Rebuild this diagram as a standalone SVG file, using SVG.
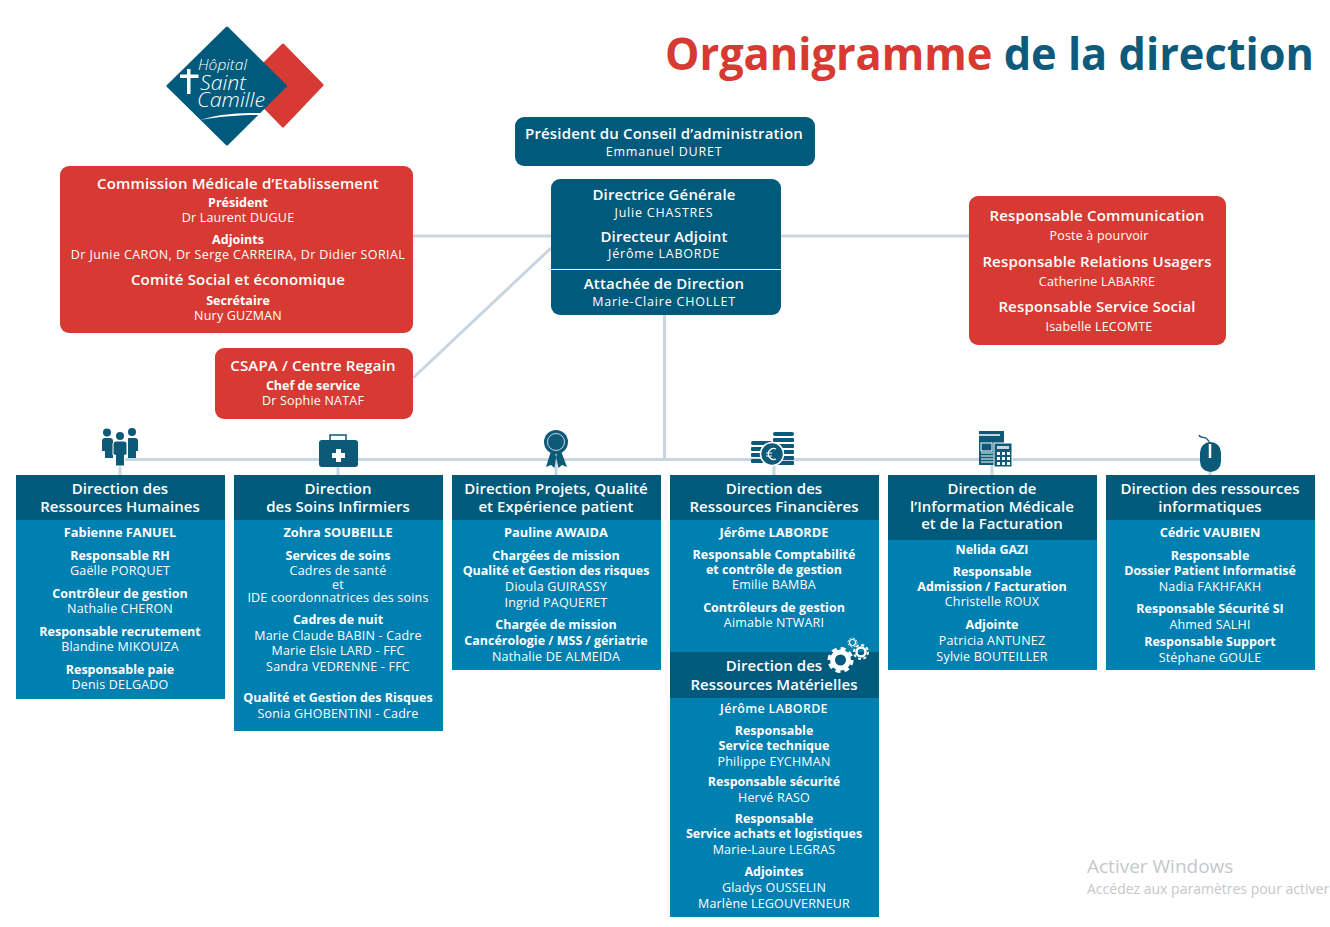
<svg xmlns="http://www.w3.org/2000/svg" width="1330" height="927" viewBox="0 0 1330 927">
<style>
text{font-family:"Open Sans","Noto Sans","Liberation Sans",sans-serif;fill:#fff;text-anchor:middle}
.h{font-size:15px;font-weight:600;letter-spacing:.05px}
.t{font-size:15px;font-weight:600;letter-spacing:.16px}
.p{font-size:12.800px;font-weight:700}
.b{font-size:12.500px;font-weight:700}
.n{font-size:12.500px;letter-spacing:.2px}
.m{font-size:12.500px;letter-spacing:.8px}
.lg{font-family:"Open Sans","Liberation Sans",sans-serif;font-style:italic;font-weight:300;text-anchor:start}
.dk{fill:#005a7c}
.md{fill:#007fb1}
.rd{fill:#d63a32}
.ln{stroke:#c9d5e0;stroke-width:3;fill:none}
.ic{fill:#0d5a78}
</style>
<rect width="1330" height="927" fill="#fff"/>
<g id="title"><text x="989.500" y="70" style="font-size:44px;font-weight:700" textLength="649" lengthAdjust="spacingAndGlyphs"><tspan style="fill:#d63a32">Organigramme</tspan><tspan style="fill:#0d5a7c"> de la direction</tspan></text></g>
<g id="logo">
<path d="M283 45 L322 85 L283 126 L243 85Z" class="rd" stroke="#d63a32" stroke-width="3" stroke-linejoin="round"/>
<path d="M227 28 L285.500 86 L227 144 L168 86Z" class="dk" stroke="#005a7c" stroke-width="3" stroke-linejoin="round"/>
<path d="M200 120 C222 113 245 113 262 113 L261 115 C245 115 222 116 200 120Z" fill="#fff"/>
<path d="M187 69h3.500v5.500h8v3.500h-8v16h-3.500v-16h-7v-3.500h7z" fill="#fff"/>
<text x="198" y="70" class="lg" style="font-size:14px" textLength="49" lengthAdjust="spacingAndGlyphs">Hôpital</text>
<text x="200" y="90" class="lg" style="font-size:20px" textLength="46" lengthAdjust="spacingAndGlyphs">Saint</text>
<text x="197" y="107" class="lg" style="font-size:20px" textLength="68" lengthAdjust="spacingAndGlyphs">Camille</text>
</g>
<g id="connectors">
<path class="ln" d="M413 236H969M551 248L413 378M664.500 315V460M120 459.500H1210M120 459V475M338 459V475M556 459V475M774 459V475M992 459V475M1210 459V475"/>
</g>
<g id="icons">
<g id="icon-rh" class="ic">
<circle cx="107" cy="432.500" r="4"/><circle cx="120" cy="436" r="4"/><circle cx="132" cy="432" r="4"/>
<path d="M105 438h5a3 3 0 0 1 3 3v17h-8v-7h-3v-10a3 3 0 0 1 3-3z"/><path d="M129 438h6a3 3 0 0 1 3 3v10h-2v7h-8v-20z"/>
<path d="M116 441h8a3 3 0 0 1 3 3v11h-2.500v11h-9v-11h-2.500v-11a3 3 0 0 1 3-3z" stroke="#fff" stroke-width="1"/>
</g>
<g id="icon-soins">
<rect x="319" y="440" width="39" height="27" rx="3" class="ic"/>
<path d="M330 440v-5h16v5" fill="none" stroke="#0d5a78" stroke-width="1.500"/>
<path d="M336 449h5v4h4v5h-4v4h-5v-4h-4v-5h4z" fill="#fff"/>
</g>
<g id="icon-qualite">
<path d="M551 451L546 467L551 465L554.500 468L557 452zM561 451L567 467L562 465L558.500 468L555 452z" class="ic"/>
<circle cx="556" cy="442" r="12" class="ic"/><circle cx="556" cy="442" r="8.500" fill="none" stroke="#c9d5e0"/>
</g>
<g id="icon-finances">
<g class="ic">
<rect x="773" y="432" width="21" height="4" rx="2"/><rect x="773" y="438" width="21" height="4" rx="1"/><rect x="773" y="444" width="21" height="4" rx="1"/><rect x="773" y="450" width="21" height="4" rx="1"/><rect x="773" y="456" width="21" height="4" rx="1"/><rect x="773" y="461" width="21" height="4" rx="1"/>
<rect x="751" y="441" width="21" height="4" rx="2"/><rect x="751" y="447" width="21" height="4" rx="1"/><rect x="751" y="453" width="21" height="4" rx="1"/><rect x="751" y="459" width="21" height="4" rx="1"/>
<circle cx="772" cy="454" r="11.500" stroke="#fff" stroke-width="1.500"/>
</g>
<path d="M776 449a5.500 5.500 0 1 0 0 10M766 453h6M766 456h6" fill="none" stroke="#fff" stroke-width="1.200"/>
</g>
<g id="icon-facturation">
<rect x="979" y="431" width="25" height="34" class="ic"/>
<path d="M978 435h22" stroke="#fff" stroke-width="1.500"/>
<rect x="981" y="443" width="11" height="8" fill="none" stroke="#fff"/>
<path d="M981 453h12M981 456h12M981 459h12M981 462h12" stroke="#fff"/>
<rect x="994" y="443" width="18" height="24" class="ic" stroke="#fff"/>
<rect x="997" y="446" width="12" height="3" fill="#c9d5e0"/>
<path d="M997 452h3v3h-3zM1002 452h3v3h-3zM1007 452h3v3h-3zM997 457h3v3h-3zM1002 457h3v3h-3zM1007 457h3v3h-3zM997 462h3v3h-3zM1002 462h3v3h-3zM1007 462h3v3h-3z" fill="#fff"/>
</g>
<g id="icon-si">
<rect x="1200" y="442" width="21" height="30" rx="10.500" class="ic"/>
<path d="M1199 435c1 4 6 1 8 4 2 2 3 3 3 5" fill="none" stroke="#0d5a78" stroke-width="1.200"/>
<path d="M1210 444v14" stroke="#fff" stroke-width="2.500"/>
</g>
</g>
<g id="president"><rect x="515" y="117" width="300" height="49" rx="9" class="dk"/>
<text x="664" y="139" class="t">Président du Conseil d’administration</text><text x="664" y="156" class="m">Emmanuel DURET</text></g>
<g id="direction-generale"><rect x="551" y="179" width="230" height="136" rx="9" class="dk"/>
<path d="M551 269.500H781" stroke="#fff" stroke-width="1"/>
<text x="664" y="200" class="t">Directrice Générale</text><text x="664" y="217" class="m">Julie CHASTRES</text>
<text x="664" y="242" class="t">Directeur Adjoint</text><text x="664" y="258" class="m">Jérôme LABORDE</text>
<text x="664" y="289" class="t">Attachée de Direction</text><text x="664" y="306" class="m">Marie-Claire CHOLLET</text></g>
<g id="cme"><rect x="60" y="166" width="353" height="167" rx="9" class="rd"/>
<text x="238" y="189" class="t">Commission Médicale d’Etablissement</text>
<text x="238" y="207" class="b">Président</text><text x="238" y="222" class="n">Dr Laurent DUGUE</text>
<text x="238" y="244" class="b">Adjoints</text><text x="238" y="259" class="n" style="letter-spacing:.4px">Dr Junie CARON, Dr Serge CARREIRA, Dr Didier SORIAL</text>
<text x="238" y="285" class="t">Comité Social et économique</text>
<text x="238" y="305" class="b">Secrétaire</text><text x="238" y="320" class="n">Nury GUZMAN</text></g>
<g id="csapa"><rect x="215" y="348" width="198" height="71" rx="9" class="rd"/>
<text x="313" y="371" class="t">CSAPA / Centre Regain</text><text x="313" y="390" class="b">Chef de service</text><text x="313" y="405" class="n">Dr Sophie NATAF</text></g>
<g id="communication"><rect x="969" y="196" width="257" height="149" rx="9" class="rd"/>
<text x="1097" y="221" class="t">Responsable Communication</text><text x="1099" y="240" class="n">Poste à pourvoir</text>
<text x="1097" y="267" class="t">Responsable Relations Usagers</text><text x="1097" y="286" class="n">Catherine LABARRE</text>
<text x="1097" y="312" class="t">Responsable Service Social</text><text x="1099" y="331" class="n">Isabelle LECOMTE</text></g>
<g id="col-rh"><rect x="16" y="475" width="209" height="224" class="md"/><rect x="16" y="475" width="209" height="45" class="dk"/>
<text x="120" y="494" class="h">Direction des</text><text x="120" y="512" class="h">Ressources Humaines</text>
<text x="120" y="537" class="p">Fabienne FANUEL</text>
<text x="120" y="560" class="b">Responsable RH</text><text x="120" y="575" class="n">Gaëlle PORQUET</text>
<text x="120" y="598" class="b">Contrôleur de gestion</text><text x="120" y="613" class="n">Nathalie CHERON</text>
<text x="120" y="636" class="b">Responsable recrutement</text><text x="120" y="651" class="n">Blandine MIKOUIZA</text>
<text x="120" y="674" class="b">Responsable paie</text><text x="120" y="689" class="n">Denis DELGADO</text></g>
<g id="col-soins"><rect x="234" y="475" width="209" height="256" class="md"/><rect x="234" y="475" width="209" height="45" class="dk"/>
<text x="338" y="494" class="h">Direction</text><text x="338" y="512" class="h">des Soins Infirmiers</text>
<text x="338" y="537" class="p">Zohra SOUBEILLE</text>
<text x="338" y="560" class="b">Services de soins</text><text x="338" y="575" class="n">Cadres de santé</text><text x="338" y="589" class="n">et</text><text x="338" y="602" class="n">IDE coordonnatrices des soins</text>
<text x="338" y="624" class="b">Cadres de nuit</text><text x="338" y="640" class="n">Marie Claude BABIN - Cadre</text><text x="338" y="655" class="n">Marie Elsie LARD - FFC</text><text x="338" y="671" class="n">Sandra VEDRENNE - FFC</text>
<text x="338" y="702" class="b">Qualité et Gestion des Risques</text><text x="338" y="718" class="n">Sonia GHOBENTINI - Cadre</text></g>
<g id="col-qualite"><rect x="452" y="475" width="209" height="195" class="md"/><rect x="452" y="475" width="209" height="45" class="dk"/>
<text x="556" y="494" class="h">Direction Projets, Qualité</text><text x="556" y="512" class="h">et Expérience patient</text>
<text x="556" y="537" class="p">Pauline AWAIDA</text>
<text x="556" y="560" class="b">Chargées de mission</text><text x="556" y="575" class="b">Qualité et Gestion des risques</text><text x="556" y="591" class="n">Dioula GUIRASSY</text><text x="556" y="607" class="n">Ingrid PAQUERET</text>
<text x="556" y="629" class="b">Chargée de mission</text><text x="556" y="645" class="b">Cancérologie / MSS / gériatrie</text><text x="556" y="661" class="n">Nathalie DE ALMEIDA</text></g>
<g id="col-finances"><rect x="670" y="475" width="209" height="442" class="md"/><rect x="670" y="475" width="209" height="45" class="dk"/>
<text x="774" y="494" class="h">Direction des</text><text x="774" y="512" class="h">Ressources Financières</text>
<text x="774" y="537" class="p">Jérôme LABORDE</text>
<text x="774" y="559" class="b">Responsable Comptabilité</text><text x="774" y="574" class="b">et contrôle de gestion</text><text x="774" y="589" class="n">Emilie BAMBA</text>
<text x="774" y="612" class="b">Contrôleurs de gestion</text><text x="774" y="627" class="n">Aimable NTWARI</text>
<rect x="670" y="652" width="209" height="46" class="dk"/>
<text x="774" y="671" class="h">Direction des</text><text x="774" y="690" class="h">Ressources Matérielles</text>
<g id="icon-gears">
<circle cx="840.500" cy="660" r="8" fill="none" stroke="#fff" stroke-width="5"/><circle cx="840.500" cy="660" r="11.500" fill="none" stroke="#fff" stroke-width="3" stroke-dasharray="5 4"/>
<circle cx="861" cy="652" r="4.500" fill="none" stroke="#fff" stroke-width="2.500"/><circle cx="861" cy="652" r="7" fill="none" stroke="#fff" stroke-width="2" stroke-dasharray="3 2.500"/>
<circle cx="852.500" cy="642.500" r="3" fill="none" stroke="#fff" stroke-width="1.200"/><circle cx="852.500" cy="642.500" r="4.500" fill="none" stroke="#fff" stroke-width="1" stroke-dasharray="2 1.500"/>
</g>
<text x="774" y="713" class="b" style="font-weight:600;letter-spacing:.3px">Jérôme LABORDE</text>
<text x="774" y="735" class="b">Responsable</text><text x="774" y="750" class="b">Service technique</text><text x="774" y="766" class="n">Philippe EYCHMAN</text>
<text x="774" y="786" class="b">Responsable sécurité</text><text x="774" y="802" class="n">Hervé RASO</text>
<text x="774" y="823" class="b">Responsable</text><text x="774" y="838" class="b">Service achats et logistiques</text><text x="774" y="854" class="n">Marie-Laure LEGRAS</text>
<text x="774" y="876" class="b">Adjointes</text><text x="774" y="892" class="n">Gladys OUSSELIN</text><text x="774" y="908" class="n">Marlène LEGOUVERNEUR</text></g>
<g id="col-dim"><rect x="888" y="475" width="209" height="195" class="md"/><rect x="888" y="475" width="209" height="65" class="dk"/>
<text x="992" y="494" class="h">Direction de</text><text x="992" y="512" class="h">l’Information Médicale</text><text x="992" y="529" class="h">et de la Facturation</text>
<text x="992" y="554" class="b">Nelida GAZI</text>
<text x="992" y="576" class="b">Responsable</text><text x="992" y="591" class="b">Admission / Facturation</text><text x="992" y="606" class="n">Christelle ROUX</text>
<text x="992" y="629" class="b">Adjointe</text><text x="992" y="645" class="n">Patricia ANTUNEZ</text><text x="992" y="661" class="n">Sylvie BOUTEILLER</text></g>
<g id="col-si"><rect x="1106" y="475" width="209" height="195" class="md"/><rect x="1106" y="475" width="209" height="45" class="dk"/>
<text x="1210" y="494" class="h">Direction des ressources</text><text x="1210" y="512" class="h">informatiques</text>
<text x="1210" y="537" class="p">Cédric VAUBIEN</text>
<text x="1210" y="560" class="b">Responsable</text><text x="1210" y="575" class="b">Dossier Patient Informatisé</text><text x="1210" y="591" class="n">Nadia FAKHFAKH</text>
<text x="1210" y="613" class="b">Responsable Sécurité SI</text><text x="1210" y="629" class="n">Ahmed SALHI</text>
<text x="1210" y="646" class="b">Responsable Support</text><text x="1210" y="662" class="n">Stéphane GOULE</text></g>
<g id="watermark"><text x="1087" y="873" style="font-size:19px;text-anchor:start;fill:#c4c8ca">Activer Windows</text><text x="1087" y="894" style="font-size:14px;text-anchor:start;fill:#c4c8ca">Accédez aux paramètres pour activer</text></g>
</svg>
